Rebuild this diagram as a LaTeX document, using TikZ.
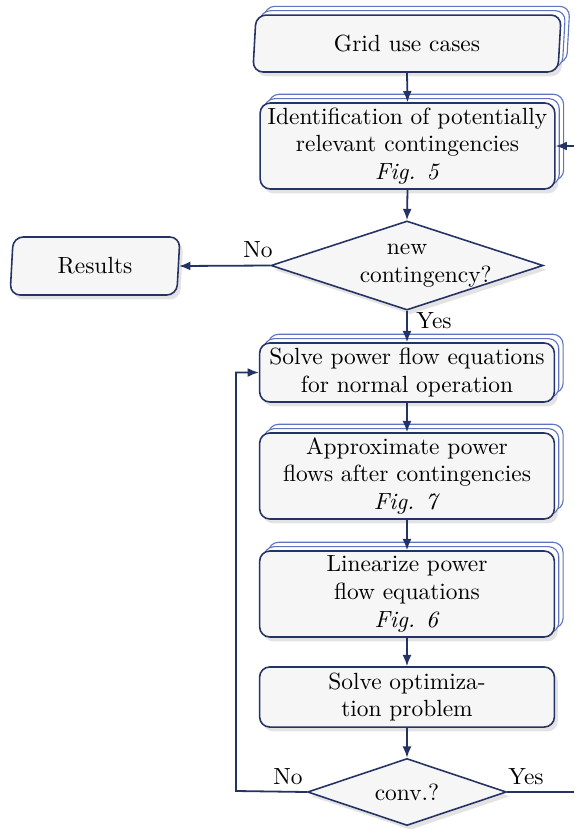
\documentclass[tikz,border=0pt]{standalone}
\usetikzlibrary{shapes.geometric,shadows,arrows.meta}
\definecolor{navy}{RGB}{36,50,100}
\definecolor{copyblue}{RGB}{95,115,190}
\definecolor{boxfill}{RGB}{246,246,246}
\tikzset{
  txt/.style={font=\fontsize{10.4}{12.3}\selectfont},
  base/.style={txt, draw=navy, line width=0.7pt, fill=boxfill, align=center, inner sep=2pt,
    drop shadow={shadow xshift=0.35ex, shadow yshift=-0.45ex, opacity=0.22}},
  stack/.style={double copy shadow={shadow xshift=0.45ex, shadow yshift=0.45ex,
    draw=copyblue, fill=white, line width=0.5pt}},
  procbox/.style={base, rectangle, rounded corners=4.5pt, minimum width=131pt},
  iobox/.style={base, trapezium, trapezium left angle=83, trapezium right angle=97,
    trapezium stretches body, rounded corners=4.5pt},
  decision/.style={base, diamond, inner sep=0pt},
  conn/.style={draw=navy, line width=0.8pt, -{Latex[length=5pt,width=4pt]}},
  plain/.style={draw=navy, line width=0.8pt},
  lbl/.style={txt, inner sep=0pt}
}
\begin{document}
\begin{tikzpicture}[x=0.44444pt,y=-0.44444pt]
\useasboundingbox (0,0) rectangle (574,829);
\node[iobox, stack, minimum width=137pt, minimum height=25.3pt] (grid) at (407,43.5) {Grid use cases};
\node[procbox, stack, minimum height=38.2pt] (ident) at (407.5,146) {Identification of potentially\\relevant contingencies\\\textit{Fig. 5}};
\node[decision, aspect=2.3, text width=42pt, minimum width=121pt, minimum height=39.6pt] (d1) at (407,265.5) {new\\contingency?};
\node[iobox, minimum width=75.5pt, minimum height=25.8pt] (res) at (95,266) {Results};
\node[procbox, stack, minimum height=26.2pt] (solve) at (407,372.5) {Solve power flow equations\\for normal operation};
\node[procbox, stack, minimum height=38.2pt] (approx) at (407,476) {Approximate power\\flows after contingencies\\\textit{Fig. 7}};
\node[procbox, stack, minimum height=38.2pt] (lin) at (407,594) {Linearize power\\flow equations\\\textit{Fig. 6}};
\node[procbox, minimum height=26.7pt] (opt) at (407,697) {Solve optimiza-\\tion problem};
\node[decision, aspect=3, minimum width=88.4pt, minimum height=29.8pt] (conv) at (407,792) {conv.?};

\coordinate (rin) at (574,146);
\coordinate (loop) at (236,791);
\coordinate (yout) at (574,792);

\draw[conn] (grid.south) -- (ident.north);
\draw[conn] (rin) -- (ident.east);
\draw[conn] (ident.south) -- (d1.north);
\draw[conn] (d1.west) -- (res.east);
\draw[conn] (d1.south) -- (solve.north);
\draw[conn] (solve.south) -- (approx.north);
\draw[conn] (approx.south) -- (lin.north);
\draw[conn] (lin.south) -- (opt.north);
\draw[conn] (opt.south) -- (conv.north);
\draw[conn] (conv.west) -- (loop) |- (solve.west);
\draw[plain] (conv.east) -- (yout);

\node[lbl] (no1) at (258,250) {No};
\node[lbl] (yes1) at (434,321) {Yes};
\node[lbl] (no2) at (288,777) {No};
\node[lbl] (yes2) at (526,777) {Yes};
\end{tikzpicture}
\end{document}
